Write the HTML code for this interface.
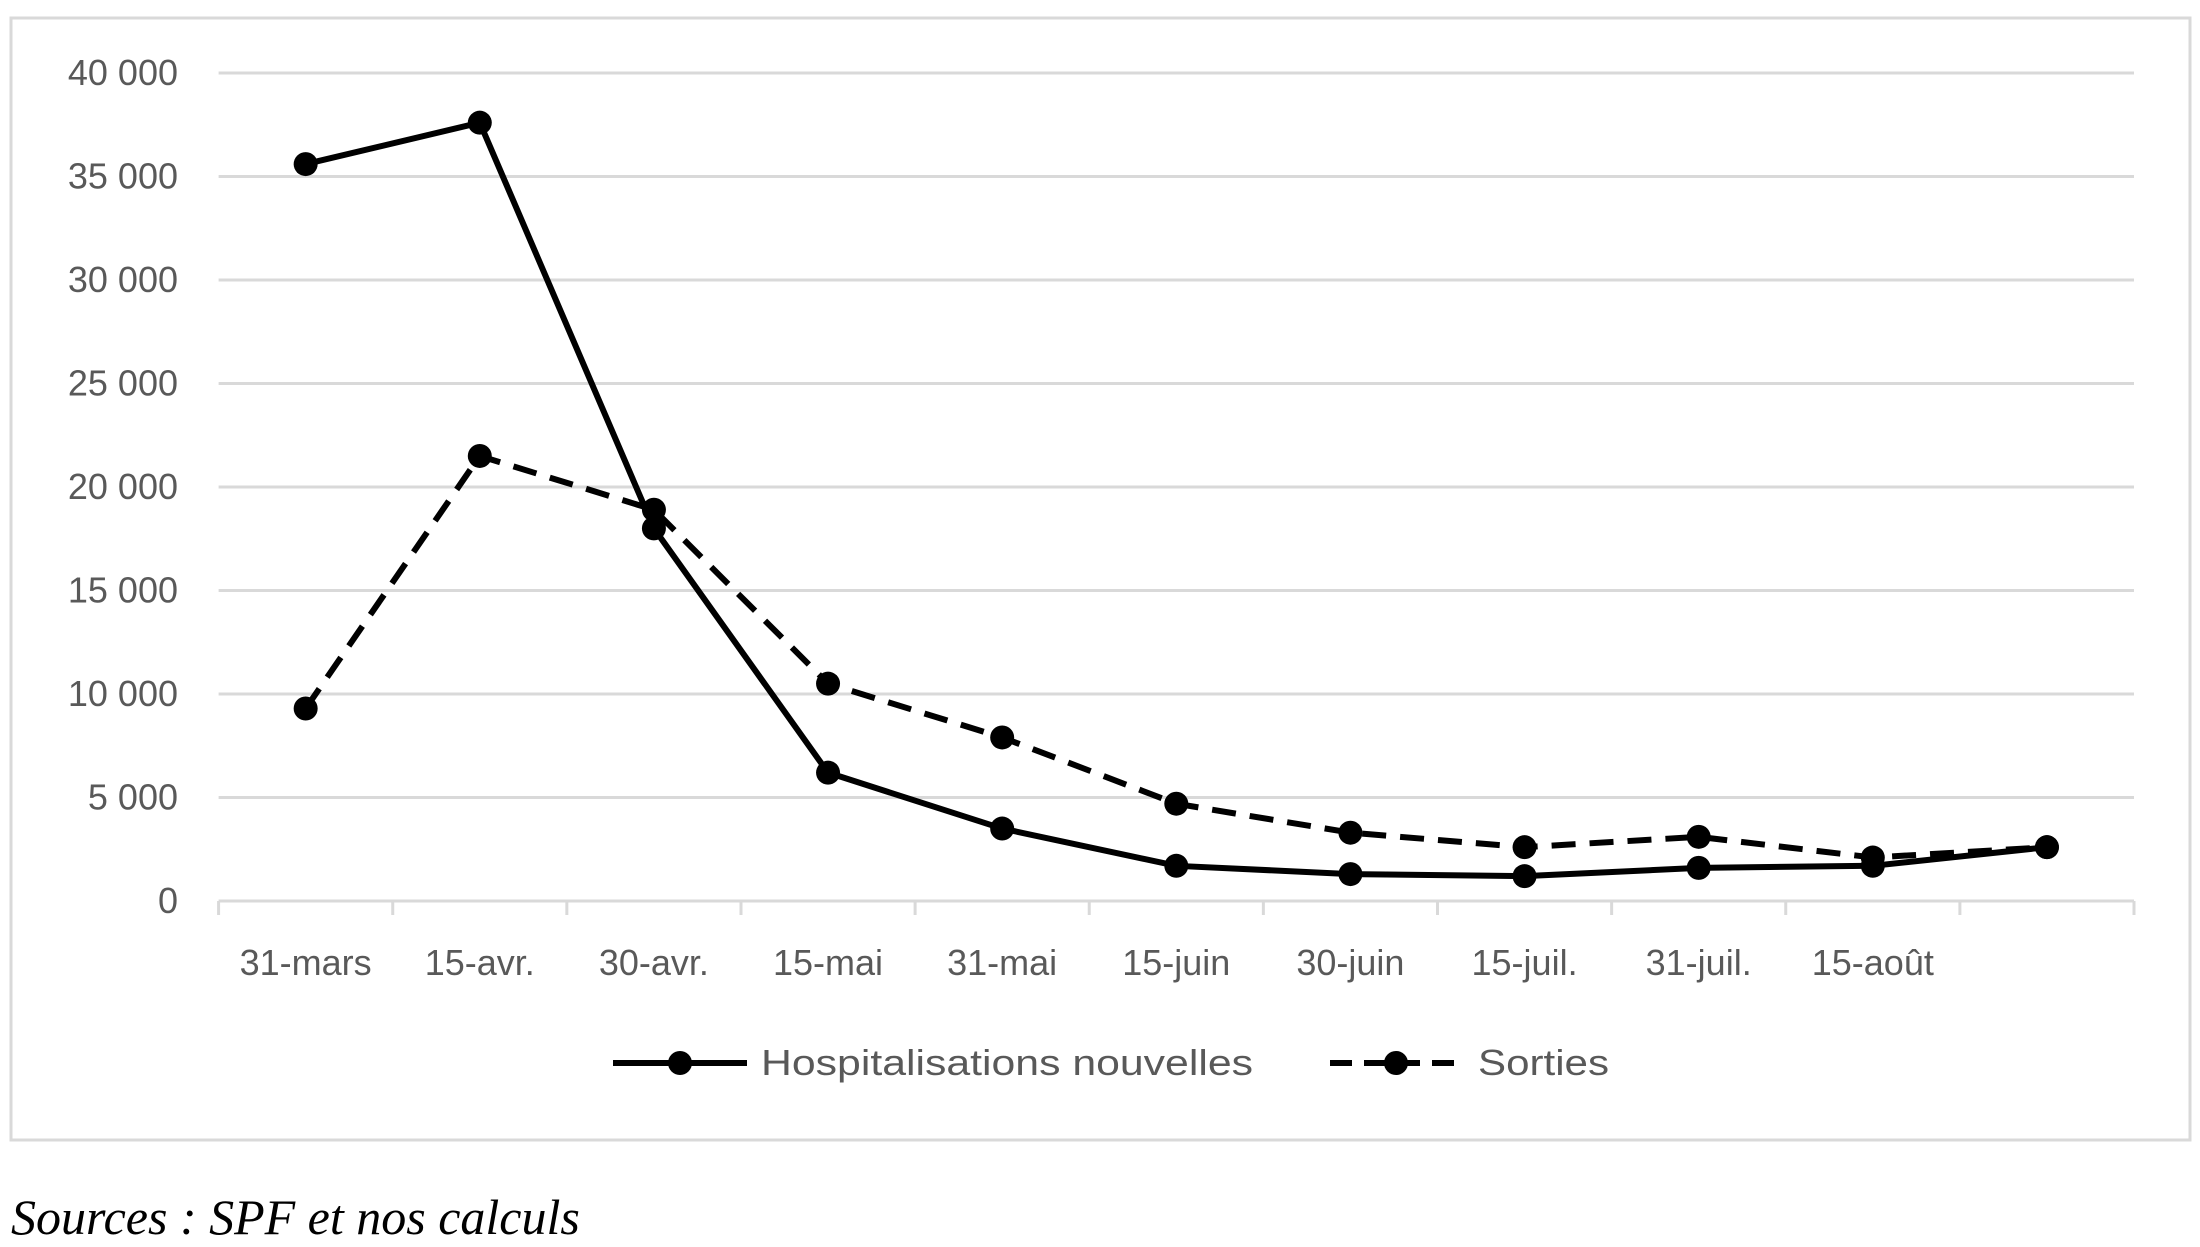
<!DOCTYPE html>
<html><head><meta charset="utf-8"><style>
html,body{margin:0;padding:0;background:#fff;}
svg{display:block;}
text{font-family:"Liberation Sans",sans-serif;}
</style></head><body>
<svg id="chart" width="2200" height="1247" viewBox="0 0 2200 1247" xmlns="http://www.w3.org/2000/svg">
<rect x="11" y="18" width="2179" height="1122" fill="#fff" stroke="#d9d9d9" stroke-width="3"/>
<g id="grid"></g><g id="axes"></g><g id="series"></g>
<g>
 <g>
  <line x1="613" y1="1063" x2="747" y2="1063" stroke="#000" stroke-width="6"/>
  <circle cx="680" cy="1063" r="12" fill="#000"/>
  <text x="761" y="1075" font-size="36" fill="#595959" textLength="492" lengthAdjust="spacingAndGlyphs">Hospitalisations nouvelles</text>
 </g>
 <g>
  <line x1="1330" y1="1063" x2="1462" y2="1063" stroke="#000" stroke-width="6" stroke-dasharray="22,12"/>
  <circle cx="1396" cy="1063" r="12" fill="#000"/>
  <text x="1478" y="1075" font-size="36" fill="#595959" textLength="131" lengthAdjust="spacingAndGlyphs">Sorties</text>
 </g>
</g>
<text x="11" y="1234" font-family="Liberation Serif" font-style="italic" font-size="50" fill="#000" style="font-family:'Liberation Serif',serif">Sources : SPF et nos calculs</text>
</svg>
<script>
const categories=["31-mars","15-avr.","30-avr.","15-mai","31-mai","15-juin","30-juin","15-juil.","31-juil.","15-août",""];
const hospitalisations=[35600,37600,18000,6200,3500,1700,1300,1200,1600,1700,2600];
const sorties=[9300,21500,18900,10500,7900,4700,3300,2600,3100,2100,2600];
const yTicks=[0,5000,10000,15000,20000,25000,30000,35000,40000];
const yTickLabels=["0","5 000","10 000","15 000","20 000","25 000","30 000","35 000","40 000"];
const NS="http://www.w3.org/2000/svg";
const L=218.6,R=2134,T=73,B=901,yMax=40000;
const step=(R-L)/categories.length;
function x(i){return L+step*(i+0.5);}
function y(v){return B-(v/yMax)*(B-T);}
function mk(tag,attrs,parent){const e=document.createElementNS(NS,tag);for(const k in attrs)e.setAttribute(k,attrs[k]);parent.appendChild(e);return e;}
const grid=document.getElementById('grid'),axes=document.getElementById('axes'),series=document.getElementById('series');
yTicks.forEach((v,i)=>{
 if(v>0){const g=mk('line',{x1:L,x2:R,y1:y(v),y2:y(v),stroke:'#d9d9d9','stroke-width':3},grid);
 
 }
 const t=mk('text',{x:178,y:y(v)+12,'text-anchor':'end','font-size':36,fill:'#595959'},axes);
 t.textContent=yTickLabels[i];
 
 
});
const ax=mk('line',{x1:L,x2:R,y1:B,y2:B,stroke:'#d9d9d9','stroke-width':3},axes);


for(let i=0;i<=categories.length;i++){
 const tk=mk('line',{x1:L+step*i,x2:L+step*i,y1:B,y2:B+14,stroke:'#d9d9d9','stroke-width':3},axes);
 
 
}
categories.forEach((c,i)=>{
 const t=mk('text',{x:x(i),y:975,'text-anchor':'middle','font-size':36,fill:'#595959'},axes);
 t.textContent=c;
 
 
});
function draw(vals,name,dash){
 const pts=vals.map((v,i)=>x(i)+','+y(v)).join(' ');
 const p=mk('polyline',{points:pts,fill:'none',stroke:'#000','stroke-width':6,'stroke-linejoin':'round'},series);
 if(dash)p.setAttribute('stroke-dasharray',dash);
 
 
 vals.forEach((v,i)=>{
  const c=mk('circle',{cx:x(i),cy:y(v),r:12,fill:'#000'},series);
  
  
 });
}
draw(sorties,'sorties','24,14');
draw(hospitalisations,'hospitalisations',null);
</script>
</body></html>
